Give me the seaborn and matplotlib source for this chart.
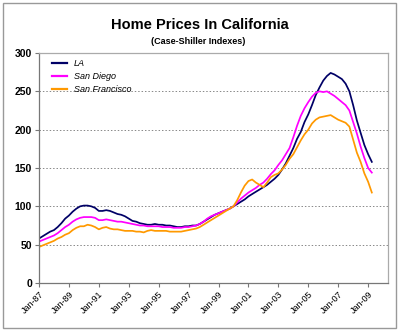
import matplotlib
matplotlib.use("Agg")
import matplotlib.pyplot as plt
from matplotlib.patches import Rectangle
import numpy as np
import pandas as pd
import seaborn as sns

# Quarterly Case-Shiller index readings, Jan 1987 .. Apr 2009 (Jan 2000 = 100)
quarters = pd.date_range("1987-01-01", "2009-04-01", freq="QS")

la = [
    58, 61, 64, 67,   69, 73, 78, 84,   88, 93, 97, 100,  101, 101, 100, 98,
    94, 94, 95, 94,   92, 90, 89, 87,   84, 81, 80, 78,   77, 76, 76, 77,
    76, 76, 75, 75,   74, 73, 73, 74,   74, 75, 75, 77,   80, 83, 86, 89,
    91, 93, 95, 97,   100, 103, 106, 109, 113, 116, 119, 122, 125, 128, 132, 136,
    141, 148, 156, 166, 176, 188, 197, 210, 220, 232, 245, 255, 264, 270, 274, 272,
    269, 266, 260, 250, 232, 212, 196, 180, 168, 158,
]
san_diego = [
    54, 56, 58, 60,   62, 65, 69, 73,   76, 80, 83, 85,   86, 86, 86, 85,
    82, 82, 83, 82,   81, 80, 80, 79,   78, 77, 76, 75,   75, 74, 74, 74,
    74, 73, 73, 73,   72, 72, 72, 73,   73, 74, 75, 77,   80, 84, 87, 89,
    91, 93, 95, 97,   100, 105, 110, 114, 118, 121, 124, 128, 131, 136, 142, 147,
    154, 160, 168, 176, 190, 205, 218, 228, 236, 243, 248, 250, 249, 250, 247, 244,
    240, 236, 232, 225, 210, 195, 178, 163, 150, 144,
]
san_francisco = [
    47, 49, 51, 53,   55, 58, 60, 63,   65, 69, 72, 74,   74, 76, 75, 73,
    70, 72, 73, 71,   70, 70, 69, 68,   68, 68, 67, 67,   66, 68, 69, 68,
    68, 68, 68, 67,   67, 67, 67, 68,   69, 70, 71, 73,   76, 79, 82, 85,
    88, 91, 94, 97,   100, 108, 118, 127, 133, 135, 131, 128, 125, 131, 138, 141,
    143, 148, 154, 162, 168, 177, 186, 194, 200, 208, 213, 216, 217, 218, 219, 216,
    213, 211, 209, 204, 187, 170, 158, 143, 132, 118,
]

series_names = ["LA", "San Diego", "San Francisco"]
series_colors = ["#000066", "#FF00FF", "#FF9900"]
y_ticks = [0, 50, 100, 150, 200, 250, 300]

df = pd.DataFrame({
    "date": np.tile(quarters, 3),
    "index": la + san_diego + san_francisco,
    "city": np.repeat(series_names, len(quarters)),
})

plt.rcParams["font.family"] = ["Liberation Sans", "DejaVu Sans"]

fig = plt.figure(figsize=(4.0, 3.3), dpi=100)
ax = fig.add_axes([0.0975, 0.1424, 0.8725, 0.697])

sns.lineplot(data=df, x="date", y="index", hue="city", hue_order=series_names,
             palette=series_colors, linewidth=1.25, ax=ax, legend=True)

ax.set_ylim(0, 300)
ax.set_xlim(pd.Timestamp("1987-01-01"), pd.Timestamp("2010-05-01"))
ax.set_yticks(y_ticks)
ax.set_yticklabels([str(t) for t in y_ticks], fontsize=7.5, fontweight="bold")

tick_dates = pd.date_range("1987-01-01", "2009-01-01", freq="24MS")
ax.set_xticks(tick_dates)
ax.set_xticklabels([d.strftime("Jan-%y") for d in tick_dates],
                   rotation=45, ha="right", rotation_mode="anchor", fontsize=6.5)

for y in y_ticks[1:-1]:
    ax.axhline(y, color="#888888", linestyle=(0, (1.5, 2)), linewidth=0.7, zorder=0)

ax.set_xlabel("")
ax.set_ylabel("")
for side in ["top", "right"]:
    ax.spines[side].set_color("#aaaaaa")
    ax.spines[side].set_linewidth(0.9)
for side in ["left", "bottom"]:
    ax.spines[side].set_color("#777777")
    ax.spines[side].set_linewidth(0.9)
ax.tick_params(axis="both", direction="out", length=3, width=0.8, color="#777777", pad=2)

leg = ax.legend(loc="upper left", bbox_to_anchor=(0.02, 1.0), frameon=False,
                fontsize=6.5, handlelength=1.6, labelspacing=0.45, borderaxespad=0.3)
for txt in leg.get_texts():
    txt.set_fontstyle("italic")
for line in leg.get_lines():
    line.set_linewidth(1.6)

fig.text(0.5, 0.925, "Home Prices In California", ha="center", va="center",
         fontsize=10.5, fontweight="bold")
fig.text(0.495, 0.875, "(Case-Shiller Indexes)", ha="center", va="center",
         fontsize=6.5, fontweight="bold")

fig.patches.append(Rectangle((0.008, 0.007), 0.982, 0.985, transform=fig.transFigure,
                             fill=False, edgecolor="#999999", linewidth=1.0))

fig.savefig("out.png", dpi=100, facecolor="white")
